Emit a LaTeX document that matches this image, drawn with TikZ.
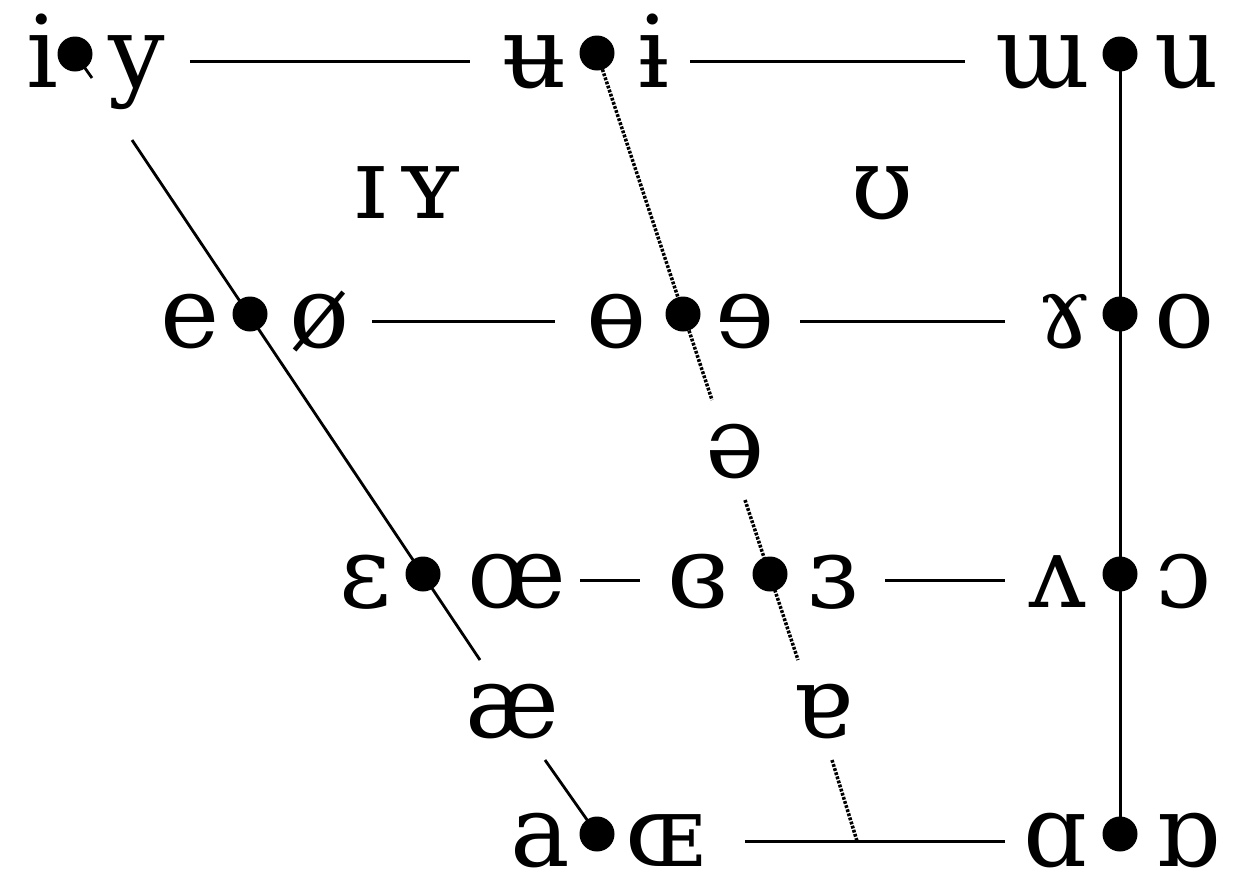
\documentclass[tikz,border=0pt]{standalone}
\usepackage{fontspec}
\setmainfont{DejaVu Serif}
\begin{document}
\begin{tikzpicture}[x=1pt,y=-1pt,
  v/.style={anchor=base,inner sep=0pt,text depth=0pt,font=\fontsize{100}{100}\selectfont},
  dotn/.style={circle,fill,inner sep=0pt,minimum size=35pt},
  ln/.style={line width=3pt},
  dg/.style={line width=2.8pt},
  dl/.style={line width=3.5pt,dash pattern=on 2.8pt off 1.5pt}]
\useasboundingbox (0,0) rectangle (1257,887);
% dot positions
\coordinate (d11) at (75,54);
\coordinate (d12) at (597,53);
\coordinate (d13) at (1120,54);
\coordinate (d21) at (250,314);
\coordinate (d22) at (683,314);
\coordinate (d23) at (1120,314);
\coordinate (d31) at (423,574);
\coordinate (d32) at (770,574);
\coordinate (d33) at (1120,574);
\coordinate (d41) at (597,834);
\coordinate (d43) at (1120,834);
% line end points
\coordinate (a1) at (92,78);
\coordinate (a2) at (132,140);
\coordinate (a3) at (480,660);
\coordinate (a4) at (545,760);
\coordinate (b1) at (712,400);
\coordinate (b2) at (745,500);
\coordinate (b3) at (798,660);
\coordinate (b4) at (832,760);
\coordinate (b5) at (857,841);
\coordinate (h1a) at (190,61); \coordinate (h1b) at (470,61);
\coordinate (h1c) at (690,61); \coordinate (h1d) at (965,61);
\coordinate (h2a) at (372,321); \coordinate (h2b) at (555,321);
\coordinate (h2c) at (800,321); \coordinate (h2d) at (1005,321);
\coordinate (h3a) at (580,580); \coordinate (h3b) at (640,580);
\coordinate (h3c) at (885,580); \coordinate (h3d) at (1005,580);
\coordinate (h4a) at (745,841); \coordinate (h4b) at (1005,841);
% lines
\draw[dg] (d11) -- (a1);
\draw[dg] (a2) -- (a3);
\draw[dg] (a4) -- (d41);
\draw[dl] (d12) -- (b1);
\draw[dl] (b2) -- (b3);
\draw[dl] (b4) -- (b5);
\draw[ln] (d13) -- (d43);
\draw[ln] (h1a) -- (h1b);
\draw[ln] (h1c) -- (h1d);
\draw[ln] (h2a) -- (h2b);
\draw[ln] (h2c) -- (h2d);
\draw[ln] (h3a) -- (h3b);
\draw[ln] (h3c) -- (h3d);
\draw[ln] (h4a) -- (h4b);
% dots
\foreach \p in {d11,d12,d13,d21,d22,d23,d31,d32,d33,d41,d43}
  \node[dotn] (n\p) at (\p) {};
% vowels
\node[v] (i) at (42,87) {i};
\node[v] (y) at (137,87) {y};
\node[v] (ubar) at (535,87) {ʉ};
\node[v] (ibar) at (653,87) {ɨ};
\node[v] (wu) at (1043,87) {ɯ};
\node[v] (u) at (1187,87) {u};
\node[v] (I) at (370,218) {ɪ};
\node[v] (Y) at (430,218) {ʏ};
\node[v] (U) at (882,218) {ʊ};
\node[v] (e) at (190,347) {e};
\node[v] (oslash) at (320,347) {ø};
\node[v] (obar) at (617,347) {ɵ};
\node[v] (erev) at (745,347) {ɘ};
\node[v] (gam) at (1065,347) {ɤ};
\node[v] (o) at (1185,347) {o};
\node[v] (schwa) at (735,477) {ə};
\node[v] (eps) at (365,607) {ɛ};
\node[v] (oe) at (517,607) {œ};
\node[v] (epsrevc) at (698,607) {ɞ};
\node[v] (epsrev) at (833,607) {ɜ};
\node[v] (V) at (1058,607) {ʌ};
\node[v] (openo) at (1183,607) {ɔ};
\node[v] (ae) at (512,737) {æ};
\node[v] (turna) at (822,737) {ɐ};
\node[v] (a) at (540,866) {a};
\node[v] (OE) at (665,866) {ɶ};
\node[v] (alpha) at (1055,866) {ɑ};
\node[v] (turnalpha) at (1187,866) {ɒ};
\end{tikzpicture}
\end{document}
